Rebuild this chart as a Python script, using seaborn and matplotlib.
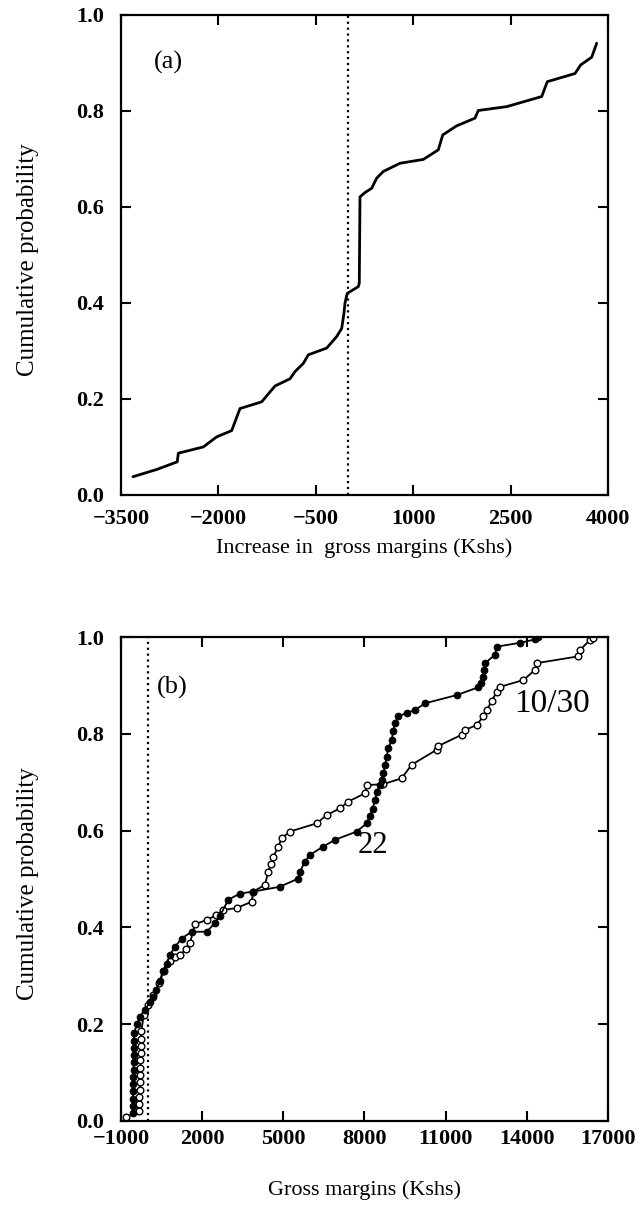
import pandas as pd
import matplotlib
matplotlib.use("Agg")
import matplotlib.pyplot as plt
import seaborn as sns

# Panel (a): increase in gross margins, cumulative probability
gain_a = [-3315, -2950, -2633, -2617, -2232, -2026, -1795, -1667, -1333, -1128,
          -897, -820, -692, -615, -332, -178, -101, -66, -50, -15, 155, 170,
          181, 258, 361, 438, 540, 797, 1156, 1387, 1455, 1670, 1952, 2003,
          2440, 2979, 3065, 3492, 3580, 3749, 3826]
prob_a = [0.038, 0.053, 0.069, 0.087, 0.100, 0.121, 0.134, 0.180, 0.194, 0.227,
          0.242, 0.257, 0.274, 0.292, 0.306, 0.330, 0.347, 0.378, 0.400, 0.420,
          0.434, 0.441, 0.621, 0.630, 0.639, 0.660, 0.674, 0.691, 0.699, 0.719,
          0.750, 0.769, 0.785, 0.801, 0.809, 0.830, 0.861, 0.878, 0.896, 0.912,
          0.941]

# Panel (b): gross margins, series "22" (filled) and "10/30" (open)
gm_22 = [-560, -556, -552, -548, -544, -540, -536, -532, -528, -524, -520, -516,
         -410, -300, -100, 60, 180, 300, 440, 550, 700, 810, 1000, 1243, 1613,
         2167, 2475, 2660, 2966, 3398, 3890, 4877, 5553, 5616, 5800, 5985, 6477,
         6910, 7711, 8081, 8200, 8300, 8388, 8460, 8560, 8635, 8700, 8760, 8820,
         8880, 9005, 9060, 9127, 9250, 9560, 9866, 10236, 11408, 12206, 12300,
         12391, 12420, 12453, 12823, 12885, 13747, 14300, 14400]
p_22 = [0.016, 0.031, 0.046, 0.061, 0.076, 0.091, 0.106, 0.121, 0.136, 0.151,
        0.166, 0.181, 0.200, 0.215, 0.230, 0.245, 0.256, 0.270, 0.290, 0.310,
        0.325, 0.343, 0.360, 0.377, 0.391, 0.391, 0.409, 0.424, 0.457, 0.470,
        0.474, 0.484, 0.501, 0.515, 0.536, 0.550, 0.567, 0.581, 0.598, 0.615,
        0.630, 0.645, 0.663, 0.680, 0.695, 0.705, 0.720, 0.735, 0.753, 0.770,
        0.787, 0.805, 0.822, 0.836, 0.843, 0.849, 0.863, 0.880, 0.896, 0.905,
        0.918, 0.932, 0.946, 0.963, 0.980, 0.988, 0.995, 1.000]

gm_1030 = [-815, -330, -323, -316, -309, -302, -295, -288, -281, -274, -267,
           -260, -253, -150, 0, 200, 400, 600, 800, 1000, 1180, 1400, 1550,
           1735, 2167, 2500, 2780, 3276, 3830, 3890, 4322, 4445, 4540, 4630,
           4815, 4939, 5246, 6232, 6602, 7094, 7402, 8018, 8081, 8695, 9373,
           9743, 9743, 10668, 10700, 11592, 11714, 12146, 12391, 12515, 12700,
           12885, 13008, 13870, 14302, 14364, 15902, 15965, 16334, 16457]
p_1030 = [0.008, 0.020, 0.035, 0.050, 0.065, 0.080, 0.095, 0.110, 0.125, 0.140,
          0.155, 0.170, 0.185, 0.220, 0.240, 0.260, 0.285, 0.310, 0.330, 0.338,
          0.343, 0.355, 0.367, 0.407, 0.415, 0.425, 0.436, 0.440, 0.453, 0.474,
          0.488, 0.515, 0.530, 0.546, 0.567, 0.584, 0.598, 0.615, 0.632, 0.646,
          0.660, 0.677, 0.694, 0.696, 0.708, 0.729, 0.743, 0.767, 0.774, 0.798,
          0.808, 0.818, 0.836, 0.849, 0.867, 0.887, 0.897, 0.911, 0.932, 0.946,
          0.960, 0.973, 0.994, 0.998]

ticks_a = [-3500, -2000, -500, 1000, 2500, 4000]
ticks_b = [-1000, 2000, 5000, 8000, 11000, 14000, 17000]
ticks_y = [0.0, 0.2, 0.4, 0.6, 0.8, 1.0]

sns.set_style("ticks")
plt.rcParams['font.family'] = ['Liberation Serif', 'DejaVu Serif']
for key in ['text.color', 'axes.labelcolor', 'xtick.color', 'ytick.color']:
    plt.rcParams[key] = 'black'


def style_axes(ax, xticks, xlabel, xpad):
    ax.set_ylim(0, 1)
    ax.set_xlim(xticks[0], xticks[-1])
    ax.set_xticks(xticks)
    ax.set_yticks(ticks_y)
    ax.set_yticklabels([f"{v:.1f}" for v in ticks_y])
    ax.set_xticklabels([str(v).replace('-', '\u2212') for v in xticks])
    for lab in ax.get_xticklabels() + ax.get_yticklabels():
        lab.set_fontweight('bold')
        lab.set_fontsize(16)
    ax.tick_params(direction='in', length=7, width=1.5, top=True, right=True)
    ax.tick_params(axis='x', pad=xpad)
    ax.tick_params(axis='y', pad=12)
    for sp in ax.spines.values():
        sp.set_visible(True)
        sp.set_linewidth(1.6)
        sp.set_color('black')
    ax.set_xlabel(xlabel, fontsize=16, va='center')
    ax.set_ylabel('Cumulative probability', fontsize=18, va='center')
    ax.yaxis.set_label_coords(-0.191, 0.49)


fig = plt.figure(figsize=(6.4, 12.06), dpi=100)

# ----- panel (a) -----
ax1 = fig.add_axes([0.189, 0.5896, 0.761, 0.398])
sns.lineplot(x=gain_a, y=prob_a, sort=False, color='black', lw=2.0, ax=ax1)
ax1.axvline(0, ls=':', color='black', lw=1.6)
ax1.text(-2776, 0.902, '(a)', fontsize=19, ha='center', va='center')
style_axes(ax1, ticks_a, 'Increase in  gross margins (Kshs)', 10)
ax1.xaxis.set_label_coords(0.5, -0.11)

# ----- panel (b) -----
ax2 = fig.add_axes([0.189, 0.0705, 0.761, 0.4013])
ax2.axvline(0, ls=':', color='black', lw=1.6)
sns.lineplot(x=gm_1030, y=p_1030, sort=False, color='black', lw=1.3,
             marker='o', markersize=4.8, markerfacecolor='white',
             markeredgecolor='black', markeredgewidth=1.0, ax=ax2)
sns.lineplot(x=gm_22, y=p_22, sort=False, color='black', lw=1.3,
             marker='o', markersize=4.8, markerfacecolor='black',
             markeredgecolor='black', ax=ax2)
ax2.text(885, 0.895, '(b)', fontsize=19, ha='center', va='center')
ax2.text(14918, 0.863, '10/30', fontsize=24, ha='center', va='center')
ax2.text(8325, 0.570, '22', fontsize=22, ha='center', va='center')
style_axes(ax2, ticks_b, 'Gross margins (Kshs)', 6)
ax2.xaxis.set_label_coords(0.5, -0.143)

fig.savefig('out.png', dpi=100)
